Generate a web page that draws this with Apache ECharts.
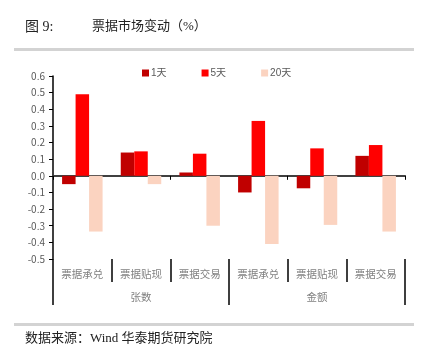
<!DOCTYPE html>
<html><head><meta charset="utf-8">
<script src="https://cdn.jsdelivr.net/npm/echarts@6/dist/echarts.min.js"></script>
<style>html,body{margin:0;padding:0;background:#fff}#c{width:424px;height:353px}</style>
</head><body><div id="c"></div>
<script>
const categories = ['票据承兑','票据贴现','票据交易','票据承兑','票据贴现','票据交易'];
const groups = ['张数','金额'];
const seriesNames = ['1天','5天','20天'];
const d1 = [-0.05, 0.14, 0.02, -0.10, -0.075, 0.12];
const d5 = [0.49, 0.147, 0.133, 0.33, 0.165, 0.185];
const d20 = [-0.335, -0.05, -0.30, -0.41, -0.295, -0.335];
const colors = ['#C00000','#FF0000','#FBD3C0'];
const yTicks = {min:-0.5, max:0.6, interval:0.1};

const chart = echarts.init(document.getElementById('c'));
const serifFont = '"Liberation Serif", "Noto Sans CJK SC", serif';
const labelFont = '"Noto Sans CJK SC", "Liberation Sans", sans-serif';
chart.setOption({
  animation:false,
  textStyle:{fontFamily:labelFont},
  grid:{left:53, right:19, top:76, bottom:94, containLabel:false},
  legend:{
    top:63, left:137, itemWidth:7, itemHeight:7, itemGap:35,
    icon:'rect',
    textStyle:{fontSize:10, color:'#595959', fontFamily:'"Liberation Sans", "Noto Sans CJK SC", sans-serif', padding:[0,0,0,-3]},
    data:seriesNames
  },
  xAxis:[
    {type:'category', data:categories, position:'bottom',
     axisLine:{onZero:true, lineStyle:{color:'#404040', width:2}},
     axisTick:{show:true, length:4, lineStyle:{color:'#000'}},
     axisLabel:{show:false}},
    {type:'category', data:categories, position:'bottom', offset:0,
     axisLine:{show:false},
     axisTick:{show:true, length:23, lineStyle:{color:'#000', width:1.5}},
     axisLabel:{show:true, fontSize:10.5, color:'#808080', margin:10, fontFamily:labelFont}},
    {type:'category', data:groups, position:'bottom', offset:0,
     axisLine:{show:false},
     axisTick:{show:true, length:46, lineStyle:{color:'#000', width:1.5}},
     axisLabel:{show:true, fontSize:10.5, color:'#808080', margin:33, fontFamily:labelFont}}
  ],
  yAxis:{type:'value', min:yTicks.min, max:yTicks.max, interval:yTicks.interval,
    splitLine:{show:false},
    axisLine:{show:true, lineStyle:{color:'#000', width:1.5}},
    axisTick:{show:true, length:4, lineStyle:{color:'#000'}},
    axisLabel:{fontSize:10, color:'#595959', margin:8, fontFamily:labelFont,
      formatter:v=>Number(v).toFixed(1)}
  },
  series:[
    {name:seriesNames[0], type:'bar', data:d1, xAxisIndex:0, barWidth:13.5, barGap:'0%', itemStyle:{color:colors[0]}},
    {name:seriesNames[1], type:'bar', data:d5, xAxisIndex:0, barWidth:13.5, barGap:'0%', itemStyle:{color:colors[1]}},
    {name:seriesNames[2], type:'bar', data:d20, xAxisIndex:0, barWidth:13.5, barGap:'0%', itemStyle:{color:colors[2]}}
  ],
  graphic:[
    {type:'text', left:25, top:20, style:{text:'图 9:', font:'14px '+serifFont, fill:'#222'}},
    {type:'text', left:92, top:20, style:{text:'票据市场变动（%）', font:'13px '+serifFont, fill:'#222'}},
    {type:'rect', shape:{x:14, y:48, width:400, height:3}, style:{fill:'#D3D3D3'}},
    {type:'rect', shape:{x:14, y:323, width:400, height:3}, style:{fill:'#D3D3D3'}},
    {type:'text', left:25, top:332, style:{text:'数据来源：Wind 华泰期货研究院', font:'13px '+serifFont, fill:'#222'}}
  ]
});
</script></body></html>
